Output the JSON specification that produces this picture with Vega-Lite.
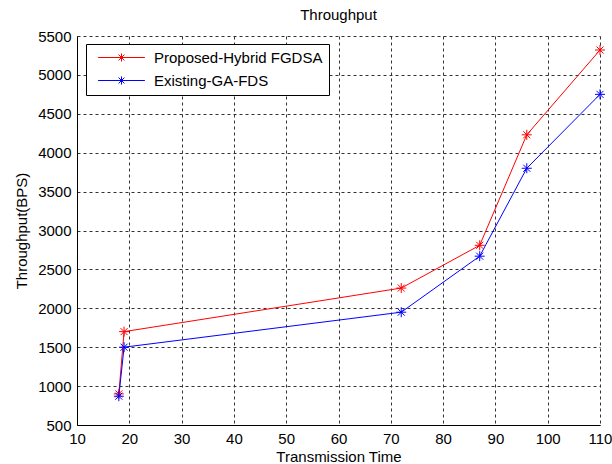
{
  "$schema": "https://vega.github.io/schema/vega-lite/v6.json",
  "autosize": "none",
  "width": 523,
  "height": 389,
  "padding": {"left": 77, "top": 36, "right": 12, "bottom": 39},
  "background": "white",
  "title": {"text": "Throughput", "font": "Liberation Sans", "fontSize": 15, "fontWeight": "normal", "color": "black", "offset": 6},
  "config": {
    "view": {"stroke": null},
    "axis": {
      "labelFont": "Liberation Sans", "labelFontSize": 15, "labelColor": "black",
      "titleFont": "Liberation Sans", "titleFontSize": 15, "titleColor": "black", "titleFontWeight": "normal",
      "domainColor": "black", "domainWidth": 1,
      "gridColor": "#333333", "gridDash": [3, 3], "gridWidth": 1, "gridOpacity": 1,
      "ticks": false, "format": "d"
    }
  },
  "data": {
    "values": [
      {"series": "Proposed-Hybrid FGDSA", "x": 18, "y": 900},
      {"series": "Proposed-Hybrid FGDSA", "x": 19, "y": 1700},
      {"series": "Proposed-Hybrid FGDSA", "x": 72, "y": 2260},
      {"series": "Proposed-Hybrid FGDSA", "x": 87, "y": 2810},
      {"series": "Proposed-Hybrid FGDSA", "x": 96, "y": 4230},
      {"series": "Proposed-Hybrid FGDSA", "x": 110, "y": 5320},
      {"series": "Existing-GA-FDS", "x": 18, "y": 870},
      {"series": "Existing-GA-FDS", "x": 19, "y": 1500},
      {"series": "Existing-GA-FDS", "x": 72, "y": 1950},
      {"series": "Existing-GA-FDS", "x": 87, "y": 2670},
      {"series": "Existing-GA-FDS", "x": 96, "y": 3800},
      {"series": "Existing-GA-FDS", "x": 110, "y": 4750}
    ]
  },
  "encoding": {
    "x": {"field": "x", "type": "quantitative", "scale": {"domain": [10, 110], "nice": false, "zero": false},
      "axis": {"title": "Transmission Time", "values": [10,20,30,40,50,60,70,80,90,100,110], "labelPadding": 6, "titlePadding": 3, "labelFlush": false}},
    "y": {"field": "y", "type": "quantitative", "scale": {"domain": [500, 5500], "nice": false, "zero": false},
      "axis": {"title": "Throughput(BPS)", "values": [500,1000,1500,2000,2500,3000,3500,4000,4500,5000,5500], "labelPadding": 6, "titlePadding": 8, "labelFlush": false}},
    "color": {"field": "series", "type": "nominal",
      "scale": {"domain": ["Proposed-Hybrid FGDSA", "Existing-GA-FDS"], "range": ["#FF0000", "#0000FF"]},
      "legend": {
        "title": null, "orient": "none", "legendX": 9, "legendY": 8,
        "strokeColor": "black", "fillColor": "white", "padding": 6,
        "symbolType": "M-5.2,0H5.2M0,-0.9V0.9M-0.65,-0.65L0.65,0.65M-0.65,0.65L0.65,-0.65",
        "symbolSize": 81, "symbolStrokeWidth": 1, "symbolFillColor": "transparent",
        "symbolOffset": 22,
        "labelFont": "Liberation Sans", "labelFontSize": 15, "labelColor": "black", "labelOffset": 25,
        "labelLimit": 300,
        "rowPadding": 7
      }
    }
  },
  "layer": [
    {"mark": {"type": "line", "strokeWidth": 1}},
    {"mark": {"type": "point", "filled": false, "strokeWidth": 1, "opacity": 1, "size": 100,
      "shape": "M0,-1V1M-1,0H1M-0.7,-0.7L0.7,0.7M-0.7,0.7L0.7,-0.7"}}
  ]
}
